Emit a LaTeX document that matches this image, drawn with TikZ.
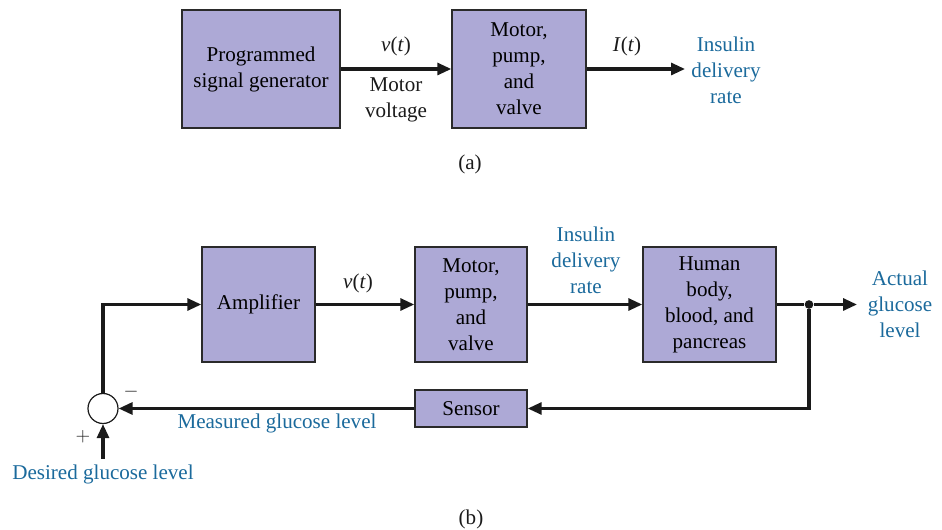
\documentclass[tikz,border=0pt]{standalone}
\usepackage{fontspec}
\setmainfont{Liberation Serif}
\usepackage{amsmath}
\usepackage{tikz}
\usetikzlibrary{calc,arrows.meta}
\definecolor{boxbg}{HTML}{ADA9D6}
\definecolor{boxline}{HTML}{2A2A2A}
\definecolor{sig}{HTML}{1B6A9C}
\definecolor{wire}{HTML}{1A1A1A}
\tikzset{
  blk/.style={draw=boxline, fill=boxbg, line width=1.1pt, align=center, inner sep=0pt},
  flow/.style={draw=wire, line width=2.3pt, -{Triangle[length=10.5pt,width=9pt]}},
  line/.style={draw=wire, line width=2.3pt},
  sum/.style={circle, draw=wire, line width=0.9pt, minimum size=22.5pt, inner sep=0pt},
  lab/.style={text=wire, align=center},
  labb/.style={text=sig, align=center},
  jdot/.style={circle, fill=wire, inner sep=2.3pt},
}
\newcommand{\sigvar}[1]{\textit{#1}(\textit{t})}

\begin{document}
\begin{tikzpicture}[x=0.75pt, y=-0.75pt, font=\fontsize{15.8}{19.5}\selectfont]
  \useasboundingbox (0,0) rectangle (942,530);
  % (a) open loop
  \node[blk, minimum width=118.5pt, minimum height=88.5pt] (gen) at (261,69) {Programmed\\signal generator};
  \node[blk, minimum width=100.5pt, minimum height=88.5pt] (pumpa) at (519,69) {Motor,\\pump,\\and\\valve};
  \coordinate (outa) at (685,69);
  \draw[flow] (gen) -- (pumpa);
  \draw[flow] (pumpa) -- (outa);
  \node[lab] (va) at (396,46) {\sigvar{v}};
  \node[lab] (mv) at (396,100) {Motor\\voltage};
  \node[lab] (it) at (627,46) {\sigvar{I}};
  \node[labb] (insa) at (726,70) {Insulin\\delivery\\rate};
  \node[lab] (capa) at (470,164) {(a)};
  % (b) closed loop
  \node[blk, minimum width=84.75pt, minimum height=86.25pt] (amp) at (258.5,304.5) {Amplifier};
  \node[blk, minimum width=84pt, minimum height=86.25pt] (pumpb) at (471,304.5) {Motor,\\pump,\\and\\valve};
  \node[blk, minimum width=99.75pt, minimum height=86.25pt] (body) at (709.5,304.5) {Human\\body,\\blood, and\\pancreas};
  \node[blk, minimum width=84pt, minimum height=27.75pt] (sensor) at (471,408.5) {Sensor};
  \node[sum] (cmp) at (103,408.5) {};
  \node[jdot] (tap) at (809,304.5) {};
  \coordinate (outb) at (857,304.5);
  \coordinate (ref) at (103,459);
  \draw[line] (cmp.north) |- ($(amp.west)+(-14,0)$);
  \draw[flow] ($(amp.west)+(-15,0)$) -- (amp);
  \draw[flow] (amp) -- (pumpb);
  \draw[flow] (pumpb) -- (body);
  \draw[line] (body) -- (tap);
  \draw[flow] (tap) -- (outb);
  \draw[flow] (tap) |- (sensor);
  \draw[flow] (sensor) -- (cmp);
  \draw[flow] (ref) -- (cmp);
  \node[lab] (vb) at (358,283) {\sigvar{v}};
  \node[labb] (insb) at (586,260) {Insulin\\delivery\\rate};
  \node[labb] (act) at (900,304) {Actual\\glucose\\level};
  \node[labb] (meas) at (277,423) {Measured glucose level};
  \node[labb] (des) at (103,474) {Desired glucose level};
  \node[lab] (minus) at (131,392) {$-$};
  \node[lab] (plus) at (83,437) {$+$};
  \node[lab] (capb) at (471,519) {(b)};
\end{tikzpicture}
\end{document}
